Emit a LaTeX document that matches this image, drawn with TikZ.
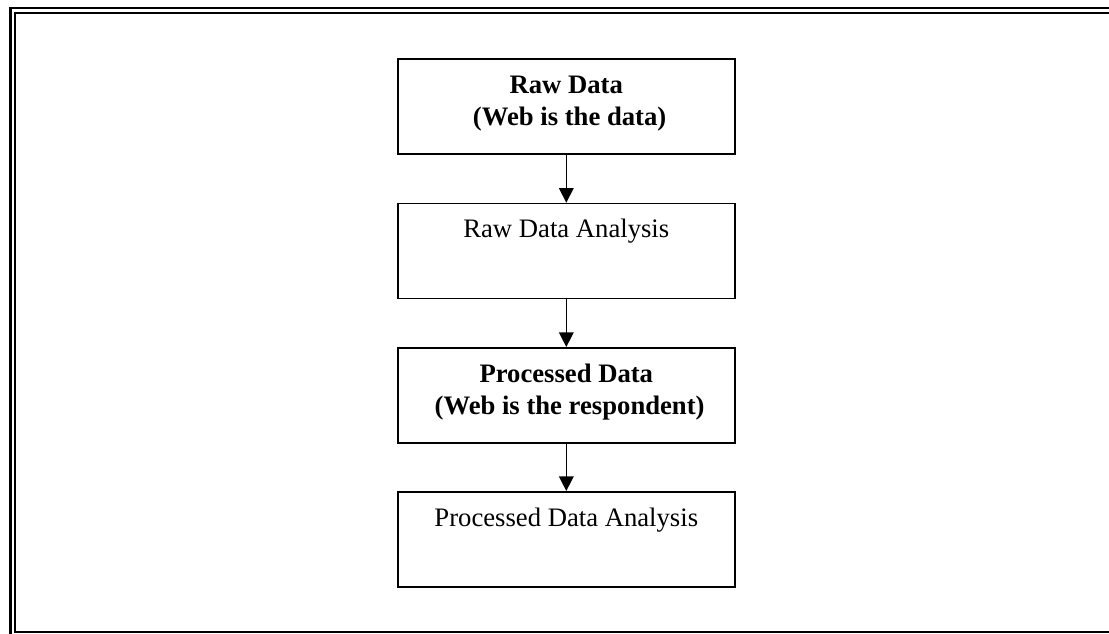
\documentclass[tikz,border=0pt]{standalone}
\usepackage{fontspec}
\setmainfont{Liberation Serif}
\usetikzlibrary{arrows.meta}
\begin{document}
\begin{tikzpicture}[x=0.75pt,y=-0.75pt,
  flowbox/.style={draw=black,line width=1.2pt,rectangle,minimum width=252.75pt,minimum height=71.25pt,inner sep=0pt,anchor=north west},
  boxtext/.style={anchor=base,align=center,font=\fontsize{20}{24}\selectfont,inner sep=0pt},
  boldtext/.style={boxtext,font=\fontsize{20}{24}\selectfont\bfseries},
  flowarrow/.style={line width=1.1pt,-{Triangle[length=11pt,width=11pt]}}]
\useasboundingbox (0,0) rectangle (1109,634);
\begin{scope}
\clip (0,0) rectangle (1109,634);
\draw[line width=2pt] (10.3,8) rectangle (1116,640);
\draw[line width=1.7pt] (15.2,13) rectangle (1112,632);
\end{scope}
\node[flowbox] (b1) at (397,58.5) {};
\node[flowbox] (b2) at (397,202.7) {};
\node[flowbox] (b3) at (397,347) {};
\node[flowbox] (b4) at (397,491) {};
\node[boldtext] (t1) at ([yshift=-50.25pt]b1.north) {Raw Data\\\ (Web is the data)};
\node[boxtext] (t2) at ([yshift=-26.25pt]b2.north) {Raw Data Analysis};
\node[boldtext] (t3) at ([yshift=-50.25pt]b3.north) {Processed Data\\\ (Web is the respondent)};
\node[boxtext] (t4) at ([yshift=-26.25pt]b4.north) {Processed Data Analysis};
\draw[flowarrow] (b1.south) -- (b2.north);
\draw[flowarrow] (b2.south) -- (b3.north);
\draw[flowarrow] (b3.south) -- (b4.north);
\end{tikzpicture}
\end{document}
